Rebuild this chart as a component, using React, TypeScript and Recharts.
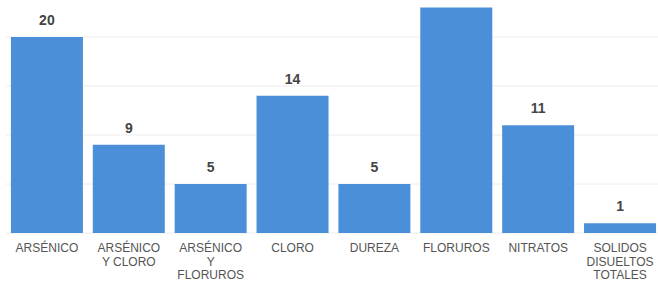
import { Bar, BarChart, CartesianGrid, LabelList, XAxis, YAxis } from "recharts"

// categories (line breaks as in the original axis labels)
const categories = [
  "ARSÉNICO",
  "ARSÉNICO\nY CLORO",
  "ARSÉNICO\nY\nFLORUROS",
  "CLORO",
  "DUREZA",
  "FLORUROS",
  "NITRATOS",
  "SOLIDOS\nDISUELTOS\nTOTALES",
]

const counts = [20, 9, 5, 14, 5, 23, 11, 1]

const yTicks = [0, 5, 10, 15, 20, 25]

const data = categories.map((name, i) => ({ name, value: counts[i] }))

const FONT = "'Liberation Sans', Arial, sans-serif"

// Multi-line category tick
const CategoryTick = (props: any) => {
  const { x, y, payload } = props
  const lines = String(payload.value).split("\n")
  return (
    <text x={x} y={y} textAnchor="middle" fill="#555" fontSize={12} fontFamily={FONT}>
      {lines.map((line, i) => (
        <tspan key={i} x={x} dy={i === 0 ? 11 : 13.5}>
          {line}
        </tspan>
      ))}
    </text>
  )
}

export default function App() {
  return (
    <div style={{ position: "absolute", left: 0, top: -40, width: 670, height: 330, background: "#fff" }}>
      <BarChart
        width={670}
        height={330}
        data={data}
        margin={{ top: 28, right: 9, left: 6, bottom: 0 }}
        barCategoryGap="6%"
      >
        <CartesianGrid vertical={false} stroke="#ececec" />
        <YAxis hide domain={[0, 25]} ticks={yTicks} />
        <XAxis
          dataKey="name"
          axisLine={false}
          tickLine={false}
          interval={0}
          height={57}
          tick={<CategoryTick />}
        />
        <Bar dataKey="value" fill="#4a8fd8" isAnimationActive={false}>
          <LabelList
            dataKey="value"
            position="top"
            offset={12}
            fill="#444"
            fontSize={14}
            fontWeight="bold"
            fontFamily={FONT}
          />
        </Bar>
      </BarChart>
    </div>
  )
}
